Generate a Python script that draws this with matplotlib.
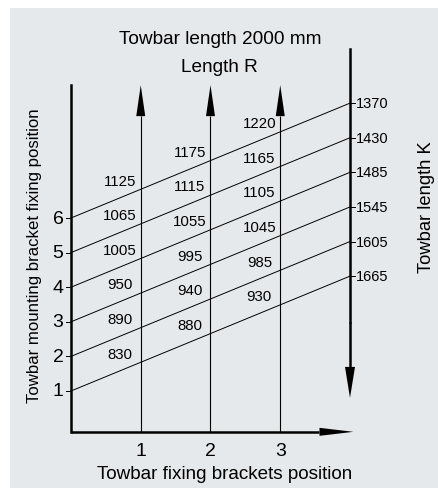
import matplotlib
matplotlib.use("Agg")
import matplotlib.pyplot as plt
from matplotlib.patches import Rectangle

plt.rcParams['font.family'] = ['Liberation Sans', 'DejaVu Sans']

# nomogram data
positions = [1, 2, 3, 4, 5, 6]                 # mounting bracket fixing position
length_k = [1665, 1605, 1545, 1485, 1430, 1370] # towbar length K at right axis
bracket_pos = [1, 2, 3]                        # fixing brackets position
length_r = {
    1: [830, 890, 950, 1005, 1065, 1125],
    2: [880, 940, 995, 1055, 1115, 1175],
    3: [930, 985, 1045, 1105, 1165, 1220],
}

slope = 0.83      # rise of each K line per bracket position
x_k = 4.0         # position of K axis
y0 = -0.18        # bottom axis

# pixel scale of the drawing (axes fill the whole figure)
W, H = 439, 489
sx, sy = 69.75, 34.6
ox, oy = 71, 392   # pixel of (0, 1)

fig = plt.figure(figsize=(W / 100, H / 100), dpi=100)
ax = fig.add_axes([0, 0, 1, 1])
ax.set_xlim(-ox / sx, (W - ox) / sx)
ax.set_ylim(1 - (H - oy) / sy, 1 + oy / sy)
ax.axis('off')

# grey panel
ax.add_patch(Rectangle((ax.get_xlim()[0] + 10 / sx, ax.get_ylim()[0]),
                       (W - 10) / sx, (H - 9) / sy,
                       facecolor='#e6e9ec', edgecolor='none', zorder=0))


def arrow(x0, ya, x1, yb, lw, hl, hw):
    # line with filled head at (x1, yb); hl, hw in pixels
    dx, dy = (x1 - x0) * sx, (yb - ya) * sy
    n = (dx ** 2 + dy ** 2) ** 0.5
    ux, uy = dx / n, dy / n
    bx, by = x1 * sx - ux * hl, yb * sy - uy * hl
    px, py = -uy * hw / 2, ux * hw / 2
    ax.plot([x0, bx / sx], [ya, by / sy], color='black', lw=lw, solid_capstyle='butt')
    ax.fill([x1, (bx + px) / sx, (bx - px) / sx], [yb, (by + py) / sy, (by - py) / sy],
            color='black', lw=0)


# axes
ax.plot([0, 0], [y0, 9.84], color='black', lw=1.8)
arrow(0, y0, 4.05, y0, 1.8, 34, 8)
ax.plot([x_k, x_k], [10.88, 3], color='black', lw=1.8)
arrow(x_k, 3, x_k, 0.8, 1.8, 31, 10)
for b in bracket_pos:
    arrow(b, y0, b, 9.84, 0.8, 31, 9)

# K lines
for p, k in zip(positions, length_k):
    ax.plot([0, x_k], [p, p + slope * x_k], color='black', lw=0.7)
    ax.plot([-5 / sx, 0], [p, p], color='black', lw=0.7)
    ax.plot([x_k, x_k + 5 / sx], [p + slope * x_k] * 2, color='black', lw=0.7)
    ax.text(x_k + 6 / sx, p + slope * x_k, str(k), fontsize=10.5, ha='left', va='center')
    ax.text(-13 / sx, p, str(p), fontsize=14, ha='center', va='center')

# R values between lines
for b in bracket_pos:
    xc = b - 0.3
    for p, r in zip(positions, length_r[b]):
        ax.text(xc, p + slope * xc + 0.5, str(r), fontsize=10.8, ha='center', va='center')

for b in bracket_pos:
    ax.text(b, 1 - (452 - oy) / sy, str(b), fontsize=14, ha='center', va='center')

ax.text((220 - ox) / sx, 1 + (oy - 40) / sy, 'Towbar length 2000 mm', fontsize=13.7,
        ha='center', va='center')
ax.text((219 - ox) / sx, 1 + (oy - 67) / sy, 'Length R', fontsize=13.7,
        ha='center', va='center')
ax.text((225 - ox) / sx, 1 - (475 - oy) / sy, 'Towbar fixing brackets position',
        fontsize=13.6, ha='center', va='center')
ax.text((35 - ox) / sx, 1 + (oy - 256) / sy, 'Towbar mounting bracket fixing position',
        fontsize=12.1, ha='center', va='center', rotation=90)
ax.text((427 - ox) / sx, 1 + (oy - 207) / sy, 'Towbar length K',
        fontsize=13.2, ha='center', va='center', rotation=90)

fig.savefig('out.png', dpi=100)
